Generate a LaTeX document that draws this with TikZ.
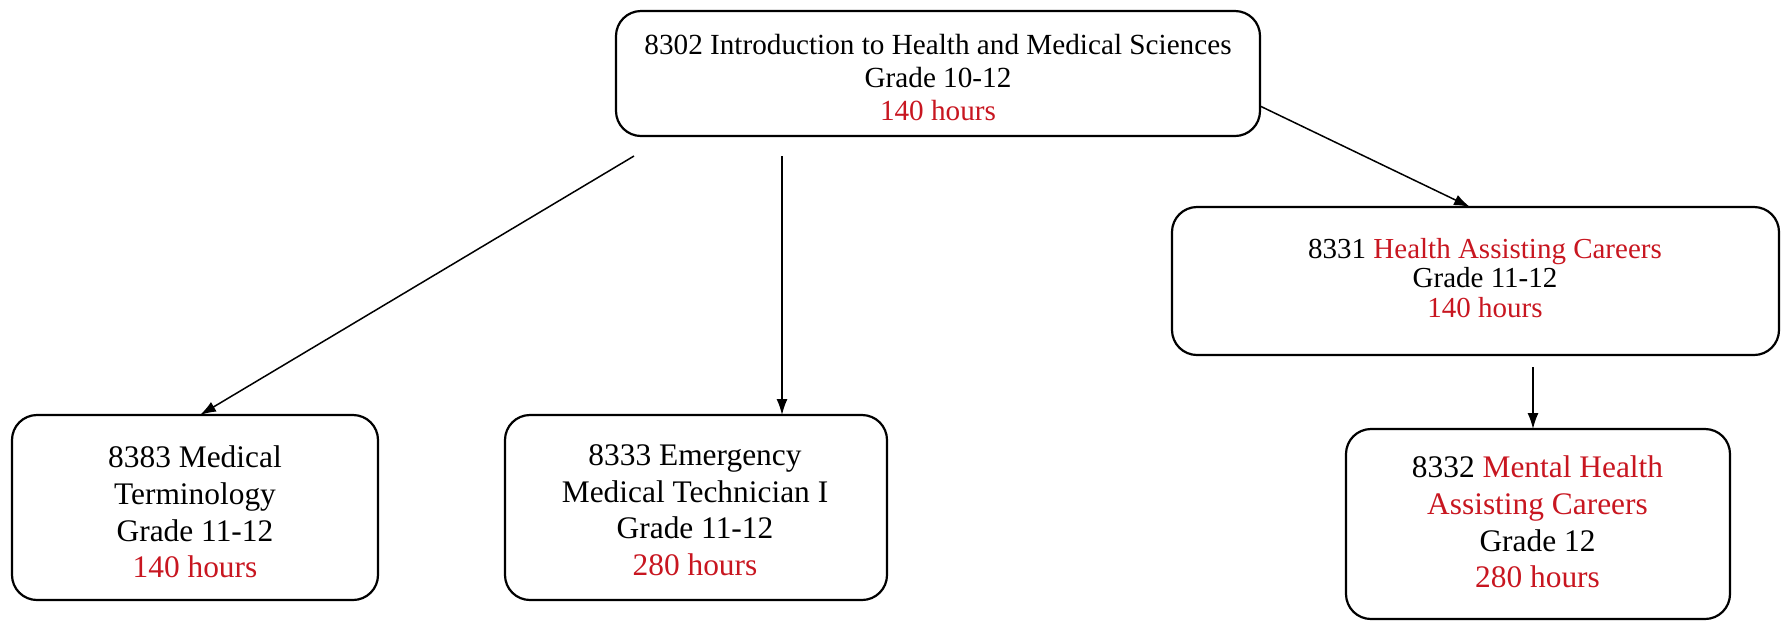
\documentclass[tikz,border=0pt]{standalone}
\usepackage{fontspec}
\setmainfont{Liberation Serif}
\usetikzlibrary{arrows.meta}
\definecolor{hred}{RGB}{200,22,32}
\begin{document}
\begin{tikzpicture}[x=0.5pt,y=-0.5pt,
  box/.style={draw, line width=1.1pt, rounded corners=12.5pt, inner sep=0pt},
  txt/.style={align=center, inner sep=0pt},
  toptext/.style={txt, font=\fontsize{14.6}{16.6}\selectfont},
  midtext/.style={txt, font=\fontsize{14.5}{14.8}\selectfont},
  lowtext/.style={txt, font=\fontsize{15.7}{18.3}\selectfont},
  arr/.style={line width=0.75pt, -{Latex[length=8pt,width=5.5pt]}}]
\useasboundingbox (0,0) rectangle (1783,623);
% boxes
\node[box, minimum width=644*0.5pt, minimum height=125*0.5pt] (top) at (938,73.5) {};
\node[box, minimum width=366*0.5pt, minimum height=185*0.5pt] (lbox) at (195,507.5) {};
\node[box, minimum width=382*0.5pt, minimum height=185*0.5pt] (mbox) at (696,507.5) {};
\node[box, minimum width=607*0.5pt, minimum height=148*0.5pt] (rbox) at (1475.5,281) {};
\node[box, minimum width=384*0.5pt, minimum height=190*0.5pt] (rlbox) at (1538,524) {};
% texts
\node[toptext] (toptxt) at (938,77.5) {8302 Introduction to Health and Medical Sciences\\Grade 10-12\\\textcolor{hred}{140 hours}};
\node[lowtext] (ltxt) at (195,512) {8383 Medical\\Terminology\\Grade 11-12\\\textcolor{hred}{140 hours}};
\node[lowtext] (mtxt) at (695,510) {8333 Emergency\\Medical Technician I\\Grade 11-12\\\textcolor{hred}{280 hours}};
\node[midtext] (rtxt) at (1485,278) {8331 \textcolor{hred}{Health Assisting Careers}\\Grade 11-12\\\textcolor{hred}{140 hours}};
\node[lowtext] (rltxt) at (1537.5,522) {8332 \textcolor{hred}{Mental Health}\\\textcolor{hred}{Assisting Careers}\\Grade 12\\\textcolor{hred}{280 hours}};
% connector end points
\coordinate (s1) at (634,156);
\coordinate (s2) at (782,156);
\coordinate (s3) at (1260,106);
\coordinate (s4) at (1533,367);
\coordinate (e1) at (200,415);
\coordinate (e2) at (782,415);
\coordinate (e3) at (1470,207);
\coordinate (e4) at (1533,429);
\draw[arr] (s1) -- (e1);
\draw[arr] (s2) -- (e2);
\draw[arr] (s3) -- (e3);
\draw[arr] (s4) -- (e4);
\end{tikzpicture}
\end{document}
